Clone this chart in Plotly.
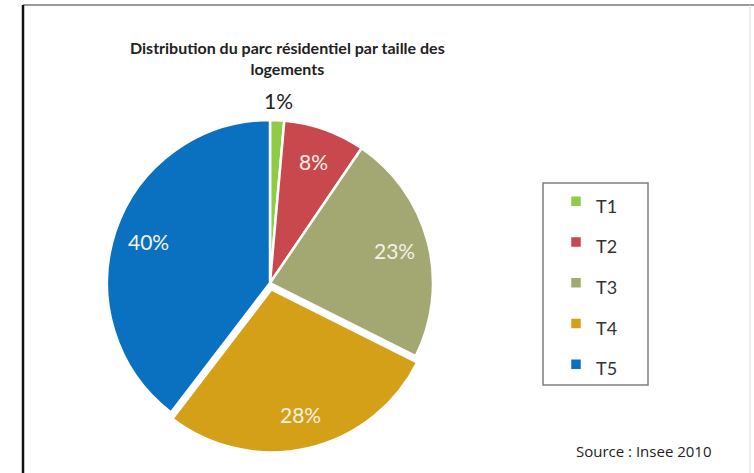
import math
import plotly.graph_objects as go

W, H = 754, 473

categories = ["T1", "T2", "T3", "T4", "T5"]
values = [1.4, 8.1, 22.9, 28.0, 39.6]
colors = ["#8fcb45", "#c9484d", "#a3a872", "#d4a017", "#0a70c0"]
pulls = [0, 0, 0, 0.04, 0]
label_outside = [True, False, False, False, False]
title_lines = ["Distribution du parc résidentiel par taille des", "logements"]
source_text = "Source : Insee 2010"


def px(x):
    return x / W


def py(y):
    return 1 - y / H


cx, cy, r = 270, 283, 163
half = r * (1 + max(pulls))

fig = go.Figure(
    go.Pie(
        labels=[f'<span style="font-size:18px">{c}</span>' for c in categories],
        values=values,
        sort=False,
        direction="clockwise",
        rotation=0,
        pull=pulls,
        marker=dict(colors=colors, line=dict(color="white", width=2.5)),
        textinfo="none",
        domain=dict(x=[px(cx - half), px(cx + half)], y=[py(cy + half), py(cy - half)]),
        hoverinfo="label+percent",
    )
)

# percentage labels placed Excel-style ("best fit") from the slice angles
total = sum(values)
annotations = []
cum = 0.0
for v, pull, outside in zip(values, pulls, label_outside):
    mid = math.radians((cum + v / 2) / total * 360)
    cum += v
    k = 1.12 if outside else 0.79
    dist = r * (k + pull)
    x = cx + dist * math.sin(mid)
    y = cy - dist * math.cos(mid)
    annotations.append(dict(
        text=f"{round(v / total * 100)}%",
        x=px(x), y=py(y), xref="paper", yref="paper",
        xanchor="center", yanchor="middle", showarrow=False,
        font=dict(family="Lato", size=21,
                  color="#222222" if outside else "#f4f1e4"),
    ))

annotations += [
    dict(
        text=f"<b>{title_lines[0]}</b><br><b>{title_lines[1]}</b>",
        x=px(287), y=py(58), xref="paper", yref="paper",
        xanchor="center", yanchor="middle", showarrow=False,
        font=dict(family="Lato", size=16, color="#222222"),
    ),
    dict(
        text=source_text,
        x=px(714), y=py(451), xref="paper", yref="paper",
        xanchor="right", yanchor="middle", showarrow=False,
        font=dict(family="Open Sans", size=15, color="#222222"),
    ),
]

fig.update_layout(
    width=W,
    height=H,
    margin=dict(l=0, r=0, t=0, b=0),
    paper_bgcolor="white",
    plot_bgcolor="white",
    showlegend=True,
    legend=dict(
        x=px(556),
        y=py(176),
        xanchor="left",
        yanchor="top",
        bgcolor="rgba(0,0,0,0)",
        borderwidth=0,
        font=dict(family="Lato", size=29, color="#333333"),
    ),
    annotations=annotations,
    shapes=[
        dict(type="rect", xref="paper", yref="paper",
             x0=px(543), x1=px(648), y0=py(385), y1=py(183),
             line=dict(color="#7f7f7f", width=1.5)),
        dict(type="line", xref="paper", yref="paper",
             x0=px(23), x1=px(754), y0=py(5), y1=py(5),
             line=dict(color="#9a9a9a", width=2)),
        dict(type="line", xref="paper", yref="paper",
             x0=px(750), x1=px(750), y0=py(5), y1=py(480),
             line=dict(color="#dddddd", width=1)),
        dict(type="line", xref="paper", yref="paper",
             x0=px(23), x1=px(23), y0=py(5), y1=py(480),
             line=dict(color="#111111", width=2.5)),
    ],
)

fig.write_html(
    "out.html",
    config={"displayModeBar": False},
    post_script="document.body.style.margin='0';document.body.style.overflow='hidden';",
)
